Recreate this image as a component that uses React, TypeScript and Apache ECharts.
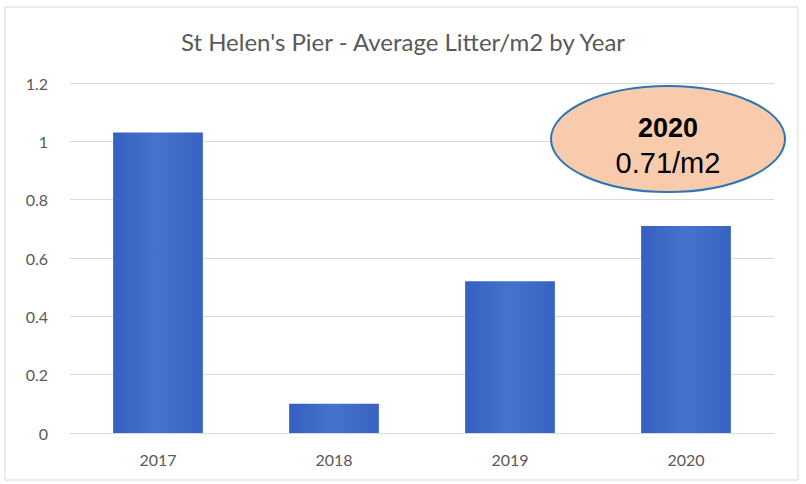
import React, { useEffect, useRef } from "react";
import * as echarts from "echarts";

const title = "St Helen's Pier - Average Litter/m2 by Year";
const years = ["2017", "2018", "2019", "2020"];
const litterPerM2 = [1.03, 0.1, 0.52, 0.71];
const calloutYear = "2020";
const calloutValue = "0.71/m2";

export default function App() {
  const ref = useRef<HTMLDivElement>(null);
  useEffect(() => {
    const chart = echarts.init(ref.current!, null, { renderer: "svg" });
    const font = "Lato, 'Liberation Sans', sans-serif";
    const calloutFont = "'Liberation Sans', Lato, sans-serif";
    chart.setOption({
      animation: false,
      backgroundColor: "#ffffff",
      title: {
        text: title,
        left: "center",
        top: 24,
        textStyle: { fontFamily: font, fontSize: 24, fontWeight: "normal", color: "#595959" },
      },
      grid: { left: 70, right: 32, top: 83, bottom: 51, containLabel: false },
      xAxis: {
        type: "category",
        data: years,
        axisLine: { show: true, lineStyle: { color: "#d9d9d9" } },
        axisTick: { show: false },
        axisLabel: { color: "#595959", fontFamily: font, fontSize: 16, margin: 18 },
      },
      yAxis: {
        type: "value",
        min: 0,
        max: 1.2,
        interval: 0.2,
        axisLine: { show: false },
        axisTick: { show: false },
        splitLine: { lineStyle: { color: "#d9d9d9", width: 1 } },
        axisLabel: {
          color: "#595959",
          fontFamily: font,
          fontSize: 16,
          margin: 22,
          formatter: (v: number) => String(Math.round(v * 10) / 10),
        },
      },
      series: [
        {
          type: "bar",
          data: litterPerM2,
          barWidth: "51%",
          itemStyle: {
            color: new echarts.graphic.LinearGradient(0, 0, 1, 0, [
              { offset: 0, color: "#3560c2" },
              { offset: 0.5, color: "#4673cc" },
              { offset: 1, color: "#3862c2" },
            ]),
          },
        },
      ],
      graphic: [
        {
          type: "rect",
          shape: { x: 5, y: 7, width: 793, height: 473 },
          style: { fill: "none", stroke: "#d9d9d9", lineWidth: 1 },
          silent: true,
        },
        {
          type: "ellipse",
          shape: { cx: 668, cy: 139, rx: 117, ry: 53 },
          style: { fill: "#f8cbad", stroke: "#2e75b6", lineWidth: 2 },
          z: 10,
        },
        {
          type: "text",
          x: 668,
          y: 128,
          style: {
            text: calloutYear,
            fontFamily: calloutFont,
            fontWeight: "bold",
            fontSize: 27,
            fill: "#000000",
            align: "center",
            verticalAlign: "middle",
          },
          z: 11,
        },
        {
          type: "text",
          x: 668,
          y: 163,
          style: {
            text: calloutValue,
            fontFamily: calloutFont,
            fontSize: 29,
            fill: "#000000",
            align: "center",
            verticalAlign: "middle",
          },
          z: 11,
        },
      ],
    });
    return () => chart.dispose();
  }, []);
  return (
    <div
      ref={ref}
      style={{ position: "fixed", left: 0, top: 0, width: 806, height: 484 }}
    />
  );
}
